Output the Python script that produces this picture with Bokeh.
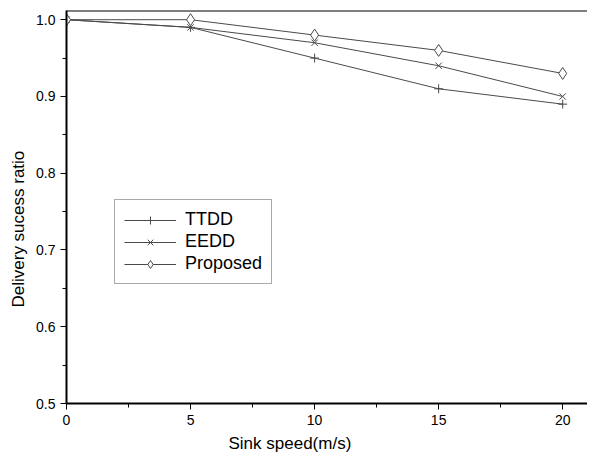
from bokeh.plotting import figure
from bokeh.models import Range1d, Span, Legend, LegendItem, FixedTicker, Title
from bokeh.embed import file_html
from bokeh.resources import INLINE

speed = [0, 5, 10, 15, 20]
ttdd = [1.0, 0.99, 0.95, 0.91, 0.89]
eedd = [1.0, 0.99, 0.97, 0.94, 0.90]
proposed = [1.0, 1.0, 0.98, 0.96, 0.93]
x_ticks = [0, 5, 10, 15, 20]
y_ticks = [0.5, 0.6, 0.7, 0.8, 0.9, 1.0]

FONT = "Liberation Sans"
LC = "#4a4a4a"

p = figure(width=587, height=456, output_backend="svg", toolbar_location=None,
           x_range=Range1d(0, 21.0), y_range=Range1d(0.5, 1.012),
           min_border_left=66, min_border_right=0, min_border_top=10, min_border_bottom=53)
p.outline_line_color = None
p.grid.visible = False
p.background_fill_color = "white"
p.border_fill_color = "white"

r1 = p.line(speed, ttdd, line_color=LC, line_width=1)
m1 = p.scatter(speed, ttdd, marker="cross", size=9, line_color=LC, fill_color=None)
r2 = p.line(speed, eedd, line_color=LC, line_width=1)
m2 = p.scatter(speed, eedd, marker="x", size=9, line_color=LC, fill_color=None)
r3 = p.line(speed, proposed, line_color=LC, line_width=1)
m3 = p.scatter(speed, proposed, marker="diamond", size=12, line_color=LC, fill_color="white")

p.add_layout(Span(location=1.012, dimension="width", line_color="black", line_width=2))

for ax in (p.xaxis[0], p.yaxis[0]):
    ax.axis_line_width = 2
    ax.axis_line_color = "black"
    ax.major_tick_line_color = "black"
    ax.minor_tick_line_color = "black"
    ax.major_tick_out = 6
    ax.major_tick_in = 0
    ax.minor_tick_out = 4
    ax.minor_tick_in = 0
    ax.major_label_text_font = FONT
    ax.major_label_text_font_size = "14px"
    ax.major_label_text_color = "black"

p.xaxis.ticker = FixedTicker(ticks=x_ticks, minor_ticks=[2.5, 7.5, 12.5, 17.5])
p.yaxis.ticker = FixedTicker(ticks=y_ticks, minor_ticks=[0.55, 0.65, 0.75, 0.85, 0.95])
p.yaxis.major_label_overrides = {v: f"{v:.1f}" for v in y_ticks}

xt = Title(text="Sink speed(m/s)", align="left", offset=162, standoff=8,
           text_font=FONT, text_font_size="17px", text_font_style="normal", text_color="black")
p.add_layout(xt, "below")
yt = Title(text="Delivery sucess ratio", align="left", offset=96, standoff=12,
           text_font=FONT, text_font_size="17px", text_font_style="normal", text_color="black")
p.add_layout(yt, "left")

legend = Legend(items=[
    LegendItem(label="TTDD", renderers=[r1, m1]),
    LegendItem(label="EEDD", renderers=[r2, m2]),
    LegendItem(label="Proposed", renderers=[r3, m3]),
], location=(48, 119))
legend.label_text_font = FONT
legend.label_text_font_size = "18px"
legend.label_text_color = "black"
legend.glyph_width = 52
legend.glyph_height = 20
legend.label_height = 20
legend.spacing = 1
legend.padding = 9
legend.margin = 0
legend.label_standoff = 9
legend.border_line_color = "#555555"
legend.border_line_width = 1
legend.background_fill_color = "white"
legend.background_fill_alpha = 1
p.add_layout(legend)

open("out.html", "w").write(file_html(p, INLINE))
